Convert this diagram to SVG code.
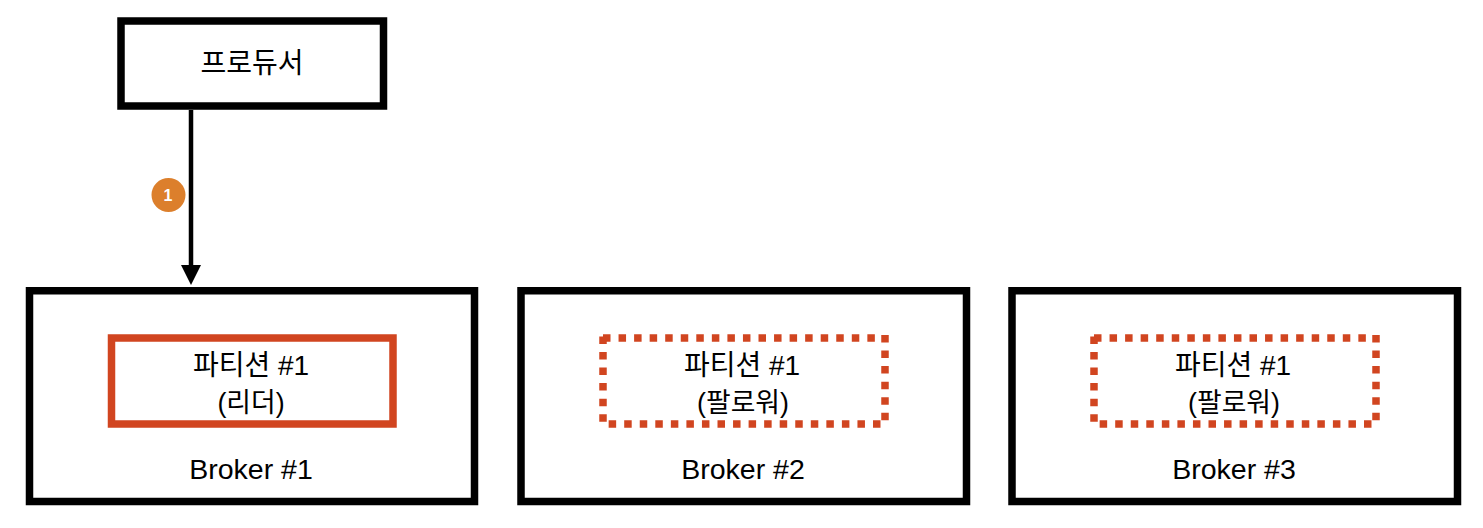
<svg xmlns="http://www.w3.org/2000/svg" width="1483" height="528" viewBox="0 0 1483 528">
<defs>
<style>
.box{fill:#fff;stroke:#000;stroke-width:7.5}
.leader{fill:none;stroke:#d14520;stroke-width:7.5}
.follower{fill:none;stroke:#d14520;stroke-width:7.5;stroke-dasharray:7.5 8.05}
text{font-family:"Liberation Sans","Noto Sans CJK KR",sans-serif;font-size:28.5px;fill:#000;text-anchor:middle}
.ko{font-size:28px}
.ko2{font-size:26.8px}
</style>
<marker id="arrow" markerUnits="userSpaceOnUse" markerWidth="20" markerHeight="20" refX="0" refY="10" orient="auto"><path d="M0 0L20 10L0 20Z" fill="#000"/></marker>
<path id="dotted" class="follower" d="M603 338H875M885 335V424M880.5 424H605M603 421.7V335"/>
</defs>
<rect width="1483" height="528" fill="#fff"/>
<g id="connectors"><path d="M191 110V265" fill="none" stroke="#000" stroke-width="4.5" marker-end="url(#arrow)"/></g>
<g id="producer"><rect class="box" x="121" y="21" width="262.5" height="85"/><text class="ko" x="252" y="73">프로듀서</text></g>
<g id="step-1"><circle cx="168.5" cy="195" r="17" fill="#dc7f2c"/><text x="168" y="201" style="font-size:16px;font-weight:bold;fill:#fff">1</text></g>
<g id="broker-1"><rect class="box" x="29.5" y="290.75" width="445" height="210.75"/><text x="251" y="479">Broker #1</text></g>
<g id="partition-1-leader"><rect class="leader" x="111.5" y="338" width="281.5" height="86"/><text class="ko" x="251" y="375">파티션 #1</text><text class="ko2" x="251" y="412">(리더)</text></g>
<g id="broker-2"><rect class="box" x="521" y="290.75" width="445.5" height="210.75"/><text x="743" y="479">Broker #2</text></g>
<g id="partition-1-follower-2"><use href="#dotted"/><text class="ko" x="742" y="375">파티션 #1</text><text class="ko2" x="743" y="412">(팔로워)</text></g>
<g id="broker-3"><rect class="box" x="1012" y="290.75" width="445.5" height="210.75"/><text x="1234" y="479">Broker #3</text></g>
<g id="partition-1-follower-3"><use href="#dotted" x="491"/><text class="ko" x="1233" y="375">파티션 #1</text><text class="ko2" x="1234" y="412">(팔로워)</text></g>
</svg>
